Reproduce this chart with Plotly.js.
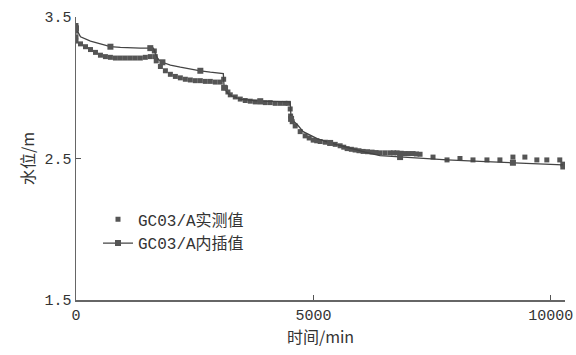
<!DOCTYPE html>
<html>
<head>
<meta charset="utf-8">
<script src="https://cdn.plot.ly/plotly-3.0.1.min.js"></script>
<style>html,body{margin:0;padding:0;background:#fff;}#chart{width:576px;height:355px;}</style>
</head>
<body>
<div id="chart"></div>
<script>
// Measured water level (min, m)
const measuredTime = [0, 0, 0, 0, 95, 200, 305, 410, 515, 620, 725, 830, 935, 1040, 1145, 1250, 1355, 1460, 1565,
  1650, 1670, 1690, 1778, 1883, 1988, 2093, 2198, 2303, 2408, 2513, 2619, 2724, 2829, 2934, 3039,
  3110, 3150, 3200, 3250, 3355, 3460, 3565, 3671, 3776, 3881, 3986, 4091, 4196, 4302, 4400, 4470,
  4512, 4520, 4554, 4617, 4722, 4827, 4912, 4996, 5070, 5143, 5250, 5353, 5460, 5564, 5640, 5711, 5800, 5879, 5960, 6047,
  6140, 6237, 6320, 6405, 6510, 6615, 6690, 6763, 6850, 6931, 7010, 7100, 7170, 7247, 7520, 7815, 8088, 8362, 8656, 8929,
  9203, 9455, 9707, 9917, 10190, 10254, 10254];
const measuredLevel = [3.44, 3.40, 3.36, 3.33, 3.31, 3.29, 3.27, 3.25, 3.23, 3.22, 3.215, 3.21, 3.21, 3.21, 3.21, 3.21, 3.21, 3.215, 3.22,
  3.26, 3.22, 3.19, 3.15, 3.12, 3.095, 3.08, 3.07, 3.06, 3.055, 3.05, 3.05, 3.045, 3.045, 3.04, 3.04,
  3.06, 3.00, 2.97, 2.95, 2.935, 2.92, 2.91, 2.905, 2.90, 2.90, 2.895, 2.895, 2.89, 2.89, 2.89, 2.89,
  2.85, 2.80, 2.76, 2.73, 2.69, 2.66, 2.645, 2.63, 2.625, 2.62, 2.615, 2.61, 2.60, 2.59, 2.58, 2.57, 2.565, 2.56, 2.555, 2.55,
  2.548, 2.545, 2.542, 2.54, 2.54, 2.54, 2.54, 2.54, 2.537, 2.535, 2.535, 2.535, 2.532, 2.53, 2.51, 2.49, 2.50, 2.49, 2.49, 2.49,
  2.51, 2.51, 2.49, 2.49, 2.49, 2.46, 2.44];

// Interpolated water level (min, m)
const interpTime = [0, 95, 305, 515, 725, 935, 1145, 1355, 1565, 1630, 1672, 1735, 1820, 1988, 2198, 2408, 2619, 2829, 3082,
  3103, 3120, 3200, 3300, 3460, 3881, 4300, 4490, 4512, 4530, 4659, 4785, 5080, 5353, 5774, 6090, 6405, 6826, 7300, 7815, 8509, 9203, 9770, 10254];
const interpLevel = [3.42, 3.36, 3.33, 3.31, 3.29, 3.285, 3.28, 3.28, 3.28, 3.28, 3.24, 3.20, 3.18, 3.16, 3.145, 3.13, 3.12, 3.11, 3.10,
  3.10, 3.00, 2.96, 2.94, 2.92, 2.905, 2.90, 2.90, 2.90, 2.78, 2.74, 2.69, 2.64, 2.61, 2.57, 2.545, 2.52, 2.51, 2.50, 2.49, 2.48, 2.47, 2.46, 2.455];

const seriesNames = ["GC03/A实测值", "GC03/A内插值"];
const xTickVals = [0, 5000, 10000];
const xTickText = ["0", "5000", "10000"];
const yTickVals = [1.5, 2.5, 3.5];
const yTickText = ["1.5", "2.5", "3.5"];
const xTitle = "时间/min";
const yTitle = "水位/m";

const monoFont = "Liberation Mono, Noto Sans CJK SC, monospace";
const cjkFont = "Noto Sans CJK SC, Liberation Serif, serif";

const traces = [
  {
    x: measuredTime, y: measuredLevel, name: seriesNames[0],
    type: "scatter", mode: "markers",
    marker: {symbol: "square", size: 5, color: "#555"}
  },
  {
    x: interpTime, y: interpLevel, name: seriesNames[1],
    type: "scatter", mode: "lines+markers",
    line: {color: "#444", width: 1.3},
    marker: {symbol: "square", size: 6, color: "#555", maxdisplayed: 14}
  }
];

const layout = {
  width: 576, height: 355,
  margin: {l: 76, r: 11, t: 17, b: 55},
  paper_bgcolor: "#fff", plot_bgcolor: "#fff",
  showlegend: true,
  legend: {
    x: 0.045, y: 0.345, xanchor: "left", yanchor: "top",
    bgcolor: "rgba(0,0,0,0)", tracegroupgap: 0,
    font: {family: monoFont, size: 16, color: "#333"},
    itemwidth: 30
  },
  xaxis: {
    range: [0, 10300], tickmode: "array", tickvals: xTickVals, ticktext: xTickText,
    ticks: "inside", ticklen: 5, tickcolor: "#555",
    showline: true, linecolor: "#666", linewidth: 1.5,
    showgrid: false, zeroline: false,
    tickfont: {family: monoFont, size: 15, color: "#333"},
    title: {text: xTitle, font: {family: cjkFont, size: 16, color: "#333"}, standoff: 8}
  },
  yaxis: {
    range: [1.5, 3.5], tickmode: "array", tickvals: yTickVals, ticktext: yTickText,
    ticks: "inside", ticklen: 5, tickcolor: "#555",
    showline: true, linecolor: "#666", linewidth: 1.5,
    showgrid: false, zeroline: false,
    tickfont: {family: monoFont, size: 15, color: "#333"},
    title: {text: yTitle, font: {family: cjkFont, size: 16, color: "#333"}, standoff: 6}
  }
};

Plotly.newPlot("chart", traces, layout, {displayModeBar: false, staticPlot: true});
</script>
</body>
</html>
